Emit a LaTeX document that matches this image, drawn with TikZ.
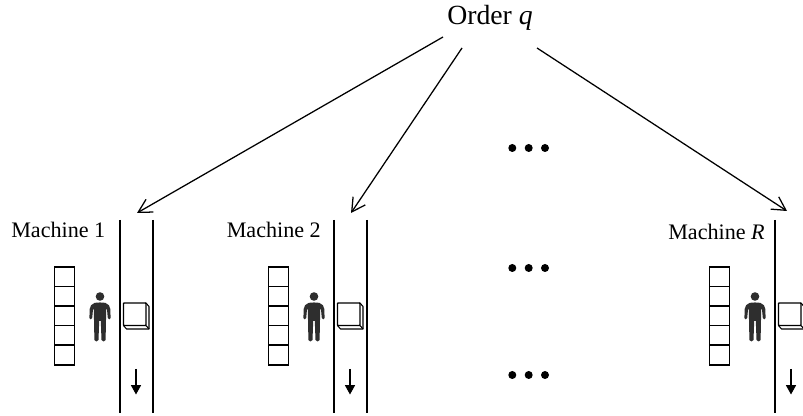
\documentclass[tikz,border=0pt]{standalone}
\usepackage{fontspec}
\setmainfont{Liberation Serif}
\usetikzlibrary{arrows.meta}
\tikzset{
  x=0.75pt,y=-0.75pt,
  lbl/.style={inner sep=0pt,font=\fontsize{16.6pt}{18pt}\selectfont},
  ordertext/.style={inner sep=0pt,font=\fontsize{20.8pt}{24pt}\selectfont},
  link/.style={line width=0.95pt,-{Straight Barb[length=10pt,width=11pt,line width=0.95pt]}},
  rail/.style={line width=1pt},
  cellbox/.style={draw=black,line width=1.15pt,fill=white},
  flow/.style={line width=0.95pt,-{Triangle[length=7pt,width=7.5pt]}},
  dotmark/.style={circle,fill=black,inner sep=0pt,minimum size=6pt},
  man/.style={fill=black!82,draw=none},
}
\newcommand{\machineunit}[2]{%
  \begin{scope}[shift={(#1,0)}]
    \draw[rail] (120,220) -- (120,413);
    \draw[rail] (153,220) -- (153,413);
    \foreach \yy in {266.8,286.4,306,325.6,345.2}
      \draw[cellbox] (54.3,\yy) rectangle ++(20,19.6);
    % person
    \fill[man] (100,296.5) circle (4.3);
    \fill[man] (94.5,303) .. controls (96,302.3) and (104,302.3) .. (105.5,303)
      .. controls (108.5,304) and (110,306) .. (110.3,309)
      -- (110.6,318) .. controls (110.6,319.8) and (108,319.8) .. (107.8,318)
      -- (107,309.5) -- (106.2,309.5) -- (105.6,340) .. controls (105.4,342) and (101.8,342) .. (101.5,340)
      -- (100.8,321) -- (99.2,321) -- (98.5,340) .. controls (98.2,342) and (94.6,342) .. (94.4,340)
      -- (93.8,309.5) -- (93,309.5) -- (92.2,318) .. controls (92,319.8) and (89.4,319.8) .. (89.4,318)
      -- (89.7,309) .. controls (90,306) and (91.5,304) .. (94.5,303) -- cycle;
    % box
    \draw[line width=0.8pt,line join=round,fill=white] (123.5,325.5) -- (126.5,329) -- (149,329) -- (149,306.5) -- (146,303) -- cycle;
    \draw[line width=0.8pt] (146,325.5) -- (149,329);
    \draw[line width=1.1pt,line join=round,fill=white,rounded corners=0.5pt] (123.5,303) rectangle (146,325.5);
    \draw[flow] (136,369) -- (136,394.5);
  \end{scope}}
\begin{document}
\begin{tikzpicture}
\useasboundingbox (0,0) rectangle (803,416);
\clip (0,0) rectangle (803,416);
\fill[white] (0,0) rectangle (803,416);
\node[ordertext,anchor=base west] (order) at (447,25) {Order \textit{q}};
\machineunit{0}{ma}
\machineunit{214}{mb}
\machineunit{655}{mc}
\node[lbl,anchor=base west] (l1) at (11,238) {Machine 1};
\node[lbl,anchor=base west] (l2) at (226.5,238) {Machine 2};
\node[lbl,anchor=base west] (l3) at (668,240) {Machine \textit{R}};
\coordinate (s1) at (443,37);
\coordinate (s2) at (462,48);
\coordinate (s3) at (537,48);
\coordinate (e1) at (137,213);
\coordinate (e2) at (351,213);
\coordinate (e3) at (787,211);
\draw[link] (s1) -- (e1);
\draw[link] (s2) -- (e2);
\draw[link] (s3) -- (e3);
\foreach \n/\yy in {a/148,b/268,c/375}{
  \node[dotmark] (d\n1) at (512.3,\yy) {};
  \node[dotmark] (d\n2) at (528.7,\yy) {};
  \node[dotmark] (d\n3) at (545,\yy) {};
}
\end{tikzpicture}
\end{document}
